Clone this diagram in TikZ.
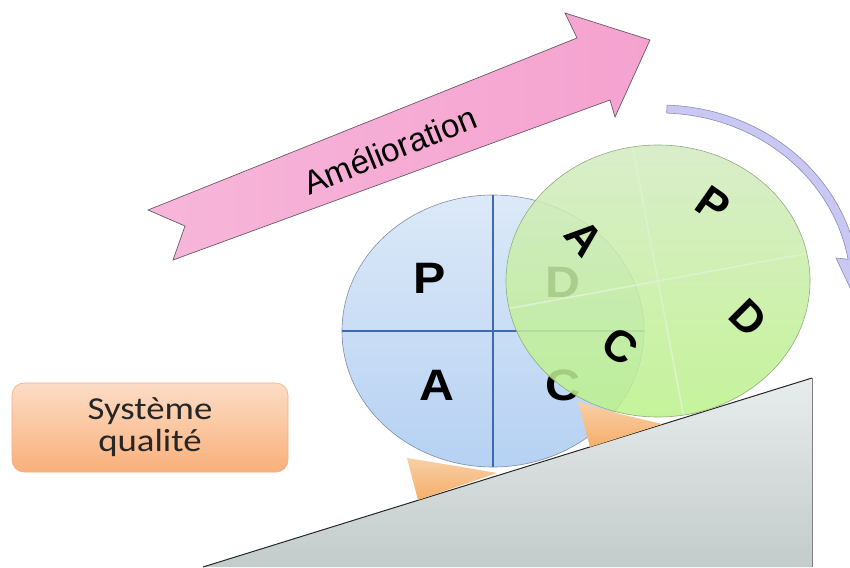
\documentclass[tikz,border=0pt]{standalone}
\usepackage{fontspec}
\setmainfont{Liberation Sans}
\newfontfamily\carlito{Carlito}
\usetikzlibrary{shapes.geometric}
\definecolor{bluetop}{HTML}{DCE9F8}
\definecolor{bluebot}{HTML}{B6D1F3}
\definecolor{bluedge}{HTML}{7F8FA8}
\definecolor{bluediv}{HTML}{3D6BB3}
\definecolor{greentop}{HTML}{D4EBC2}
\definecolor{greenbot}{HTML}{BCF28A}
\definecolor{greenedge}{HTML}{8FAE7F}
\definecolor{greendiv}{HTML}{DCF2CC}
\definecolor{pinka}{HTML}{F7B6DA}
\definecolor{pinkb}{HTML}{F5A2CF}
\definecolor{pinkedge}{HTML}{6A5A64}
\definecolor{chocktop}{HTML}{F9CFA6}
\definecolor{chockbot}{HTML}{F5AE6A}
\definecolor{ramptop}{HTML}{E8ECEC}
\definecolor{rampbot}{HTML}{C3CBCB}
\definecolor{boxtop}{HTML}{FCDCC6}
\definecolor{boxbot}{HTML}{F9B07A}
\definecolor{boxedge}{HTML}{EFB088}
\definecolor{lav}{HTML}{C8C8F2}
\definecolor{lavedge}{HTML}{8C8CB8}
\tikzset{
  wheel/.style={ellipse, inner sep=0pt, line width=0.6pt},
  bletter/.style={font=\bfseries\fontsize{44}{44}\selectfont, inner sep=0pt, xscale=1.1},
  gletter/.style={font=\bfseries\fontsize{44}{44}\selectfont, inner sep=0pt},
  chock/.style={top color=chocktop, bottom color=chockbot},
}
\begin{document}
\begin{tikzpicture}[x=1pt,y=-1pt]
\useasboundingbox[fill=white] (0,0) rectangle (850,567);

% ramp
\path[top color=ramptop, bottom color=rampbot] (203,567) -- (812,378) -- (812,567) -- cycle;
\draw[line width=1pt, black!85] (203,567) -- (812,378);
\draw[line width=0.8pt, gray] (812,378) -- (812,567);

% chock under first wheel
\path[chock] (407,458) -- (450,465) -- (497,473) -- (418,500) -- cycle;

% first PDCA wheel
\node[wheel, draw=bluedge, top color=bluetop, bottom color=bluebot,
      minimum width=302pt, minimum height=272pt] (w1) at (493,331) {};
\draw[bluediv, line width=1.4pt] (w1.north) -- (w1.south);
\draw[bluediv, line width=1.4pt] (w1.west) -- (w1.east);
\node[bletter] (p1) at (430,278) {P};
\node[bletter] (d1) at (563,282) {D};
\node[bletter] (a1) at (437,385) {A};
\node[bletter] (c1) at (563,385) {C};

% chock under second wheel
\path[chock] (578,402) -- (620,414) -- (662,424) -- (590,447) -- cycle;

% second PDCA wheel (rotated)
\node[wheel, draw=greenedge, top color=greentop, bottom color=greenbot, fill opacity=0.86,
      minimum width=304pt, minimum height=272pt] (w2) at (658,281) {};
\coordinate (g) at (658,281);
\begin{scope}
  \clip (g) ellipse [x radius=151, y radius=135];
  \draw[greendiv, line width=1.6pt] ([shift={(-38,-200)}]g) -- ([shift={(38,200)}]g);
  \draw[greendiv, line width=1.6pt] ([shift={(-200,37)}]g) -- ([shift={(200,-37)}]g);
\end{scope}
\node[gletter, rotate=-50] (a2) at (584,238) {A};
\node[gletter, rotate=-35] (p2) at (713,205) {P};
\node[gletter, rotate=-45] (d2) at (748,318) {D};
\node[gletter, rotate=-35] (c2) at (620,346) {C};

% rotation arrow
\path[fill=lav, draw=lavedge, line width=0.6pt]
  plot[domain=88:10, samples=40] ({660+200*cos(\x)},{290-185*sin(\x)})
  -- (868,258) -- (852,292) -- (836,258)
  -- plot[domain=10:88, samples=40] ({660+191*cos(\x)},{290-177*sin(\x)}) -- cycle;

% improvement arrow
\path[draw=pinkedge, line width=0.7pt, left color=pinka, right color=pinkb]
  (148,210) -- (577,38) -- (565,13) -- (650,40) -- (615,117) -- (610,100)
  -- (173,260) -- (185,226) -- cycle;
\node[rotate=22, font=\fontsize{33}{33}\selectfont, inner sep=0pt] (amel) at (390,150) {Amélioration};

% quality system box
\node[draw=boxedge, line width=0.6pt, rounded corners=12pt, top color=boxtop, bottom color=boxbot,
      minimum width=276pt, minimum height=89pt] (sq) at (150,427.5) {};
\node[align=center, text=black!85, xscale=1.15, inner sep=0pt,
      font=\carlito\fontsize{32}{32}\selectfont] (sqt) at (sq) {Système\\qualité};
\end{tikzpicture}
\end{document}
